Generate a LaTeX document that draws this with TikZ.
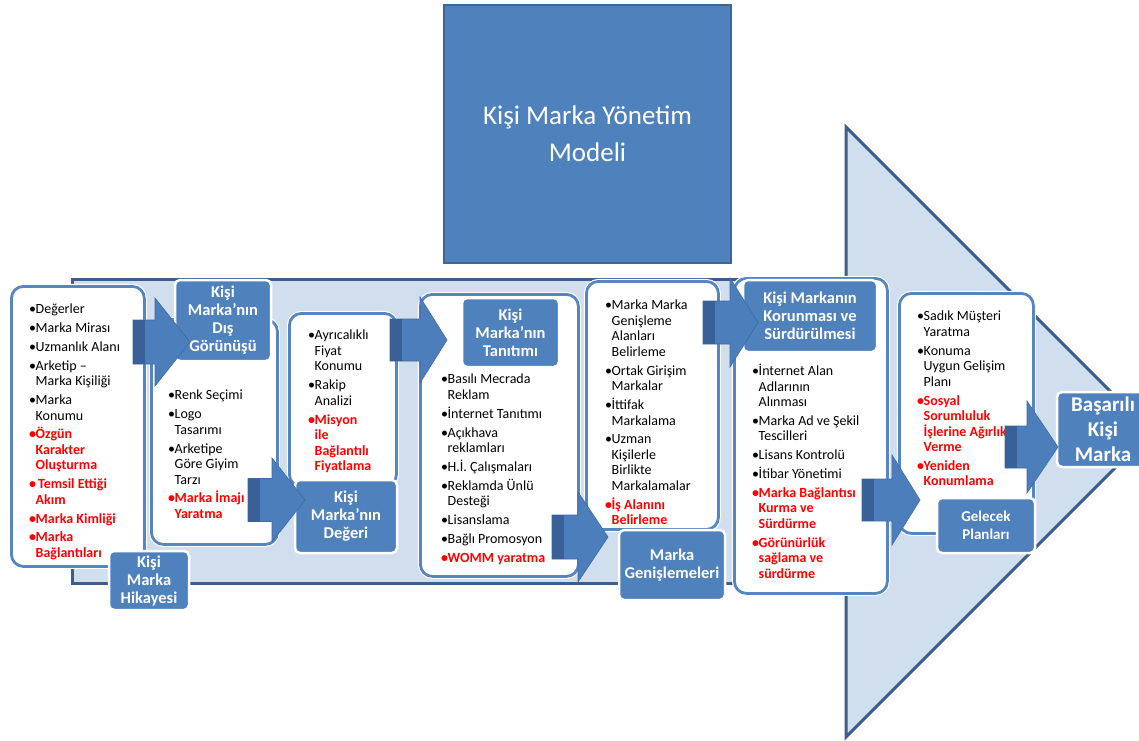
\documentclass[tikz,border=0pt]{standalone}
\usepackage{fontspec}
\setmainfont{Carlito}
\definecolor{bandfill}{HTML}{D1DEEE}
\definecolor{banddraw}{HTML}{3B5E8D}
\definecolor{hblue}{HTML}{4F81BD}
\definecolor{titledraw}{HTML}{3D6697}
\definecolor{boxdraw}{HTML}{5686C2}
\definecolor{arrowfill}{HTML}{4C7EBC}
\definecolor{arrowdark}{HTML}{3A6098}
\definecolor{arrowline}{HTML}{3F6AA3}
\definecolor{redtext}{HTML}{FF0000}
% bullet item, continuation indent, red bold line
\newcommand\itm{\makebox[6.5pt][l]{•}}
\newcommand\cnt{\hspace*{6.5pt}}
\newcommand\rl[1]{{\color{redtext}\bfseries #1}}
% block arrow: back x, head base x, tip x, centre y, shaft half, head half, dark band
\newcommand\blockarrow[7]{%
  \path[fill=arrowfill, draw=arrowline, line width=0.6pt, line join=miter]
    (#1,{#4-#5}) -- (#2,{#4-#5}) -- (#2,{#4-#6}) -- (#3,#4) -- (#2,{#4+#6})
    -- (#2,{#4+#5}) -- (#1,{#4+#5}) -- cycle;
  \fill[arrowdark] (#1,{#4-#5}) rectangle ({#1+#7},{#4+#5});
}
\begin{document}
\begin{tikzpicture}[x=1pt,y=-1pt,
  bigshape/.style={fill=bandfill, draw=banddraw, line width=3pt, line join=miter},
  listbox/.style={fill=white, draw=boxdraw, line width=2.8pt, rounded corners=12pt,
    anchor=north west, inner sep=0pt, preaction={draw=white, line width=5pt}},
  hdr/.style={fill=hblue, draw=white, line width=2.5pt, rounded corners=5pt,
    text=white, align=center, inner sep=0pt,
    font=\bfseries\fontsize{16.5}{18}\selectfont},
  listtxt/.style={anchor=north west, align=left, inner sep=0pt,
    font=\fontsize{14}{15.5}\selectfont, execute at begin node={\rule{0pt}{11pt}}},
  titlebox/.style={fill=hblue, draw=titledraw, line width=2pt, text=white,
    align=center, inner sep=0pt, font=\fontsize{27}{37}\selectfont}
]
\useasboundingbox (0,0) rectangle (1139,740);

% title
\node[titlebox, minimum width=287, minimum height=258] (title) at (587.5,134)
  {Kişi Marka Yönetim\\Modeli};

% large background arrow
\path[bigshape] (72,279) rectangle (846,583);
\path[bigshape] (846,127) -- (1151,432) -- (846,737) -- cycle;

% list boxes
\node[listbox, minimum width=133, minimum height=280] (b1) at (10,285) {};
\node[listbox, minimum width=126, minimum height=225] (b2) at (150,318) {};
\node[listbox, minimum width=107, minimum height=173] (b3) at (288,312) {};
\node[listbox, minimum width=158, minimum height=282] (b4) at (419,293) {};
\node[listbox, minimum width=132, minimum height=248] (b5) at (585,280) {};
\node[listbox, minimum width=153, minimum height=315] (b6) at (733,277) {};
\node[listbox, minimum width=134, minimum height=240] (b7) at (898,292) {};

% list texts
\node[listtxt] (t1) at (29,304) {%
\itm Değerler\\[3.3pt]
\itm Marka Mirası\\[3.3pt]
\itm Uzmanlık Alanı\\[3.3pt]
\itm Arketip –\\
\cnt Marka Kişiliği\\[3.3pt]
\itm Marka\\
\cnt Konumu\\[3.3pt]
\rl{\itm Özgün}\\
\rl{\cnt Karakter}\\
\rl{\cnt Oluşturma}\\[3.3pt]
\rl{\itm\,Temsil Ettiği}\\
\rl{\cnt Akım}\\[3.3pt]
\rl{\itm Marka Kimliği}\\[3.3pt]
\rl{\itm Marka}\\
\rl{\cnt Bağlantıları}};

\node[listtxt] (t2) at (168,390) {%
\itm Renk Seçimi\\[3.3pt]
\itm Logo\\
\cnt Tasarımı\\[3.3pt]
\itm Arketipe\\
\cnt Göre Giyim\\
\cnt Tarzı\\[3.3pt]
\rl{\itm Marka İmajı}\\
\rl{\cnt Yaratma}};

\node[listtxt] (t3) at (308,330) {%
\itm Ayrıcalıklı\\
\cnt Fiyat\\
\cnt Konumu\\[3.3pt]
\itm Rakip\\
\cnt Analizi\\[3.3pt]
\rl{\itm Misyon}\\
\rl{\cnt ile}\\
\rl{\cnt Bağlantılı}\\
\rl{\cnt Fiyatlama}};

\node[listtxt] (t4) at (441,374) {%
\itm Basılı Mecrada\\
\cnt Reklam\\[3.3pt]
\itm İnternet Tanıtımı\\[3.3pt]
\itm Açıkhava\\
\cnt reklamları\\[3.3pt]
\itm H.İ. Çalışmaları\\[3.3pt]
\itm Reklamda Ünlü\\
\cnt Desteği\\[3.3pt]
\itm Lisanslama\\[3.3pt]
\itm Bağlı Promosyon\\[3.3pt]
\rl{\itm WOMM yaratma}};

\node[listtxt] (t5) at (605,300) {%
\itm Marka Marka\\
\cnt Genişleme\\
\cnt Alanları\\
\cnt Belirleme\\[3.3pt]
\itm Ortak Girişim\\
\cnt Markalar\\[3.3pt]
\itm İttifak\\
\cnt Markalama\\[3.3pt]
\itm Uzman\\
\cnt Kişilerle\\
\cnt Birlikte\\
\cnt Markalamalar\\[3.3pt]
\rl{\itm İş Alanını}\\
\rl{\cnt Belirleme}};

\node[listtxt] (t6) at (752,364) {%
\itm İnternet Alan\\
\cnt Adlarının\\
\cnt Alınması\\[3.3pt]
\itm Marka Ad ve Şekil\\
\cnt Tescilleri\\[3.3pt]
\itm Lisans Kontrolü\\[3.3pt]
\itm İtibar Yönetimi\\[3.3pt]
\rl{\itm Marka Bağlantısı}\\
\rl{\cnt Kurma ve}\\
\rl{\cnt Sürdürme}\\[3.3pt]
\rl{\itm Görünürlük}\\
\rl{\cnt sağlama ve}\\
\rl{\cnt sürdürme}};

\node[listtxt] (t7) at (917,311) {%
\itm Sadık Müşteri\\
\cnt Yaratma\\[3.3pt]
\itm Konuma\\
\cnt Uygun Gelişim\\
\cnt Planı\\[3.3pt]
\rl{\itm Sosyal}\\
\rl{\cnt Sorumluluk}\\
\rl{\cnt İşlerine Ağırlık}\\
\rl{\cnt Verme}\\[3.3pt]
\rl{\itm Yeniden}\\
\rl{\cnt Konumlama}};

% step headers
\node[hdr, minimum width=80, minimum height=59] (h1) at (149,580.5) {Kişi\\Marka\\Hikayesi};
\node[hdr, minimum width=96, minimum height=81] (h2) at (223,320.5) {Kişi\\Marka’nın\\Dış\\Görünüşü};
\node[hdr, minimum width=102, minimum height=73] (h3) at (346,516.5) {Kişi\\Marka’nın\\Değeri};
\node[hdr, minimum width=97, minimum height=69] (h4) at (510.5,332.5) {Kişi\\Marka’nın\\Tanıtımı};
\node[hdr, minimum width=106, minimum height=70] (h5) at (672,565) {Marka\\Genişlemeleri};
\node[hdr, minimum width=134, minimum height=72] (h6) at (810,316) {Kişi Markanın\\Korunması ve\\Sürdürülmesi};
\node[hdr, minimum width=98, minimum height=55, font=\bfseries\fontsize{15}{18}\selectfont] (h7) at (986,525.5) {Gelecek\\Planları};
\node[hdr, minimum width=92, minimum height=75, font=\bfseries\fontsize{21}{25}\selectfont] (h8) at (1103,429.5) {Başarılı\\Kişi\\Marka};

% block arrows from each list to the next step
\blockarrow{133}{155}{190}{342}{22}{44}{12}
\blockarrow{248}{272}{305}{500}{21.5}{42}{12}
\blockarrow{390}{420}{447}{340}{21}{43}{12}
\blockarrow{552}{578}{608}{537}{22}{45}{12}
\blockarrow{703}{730}{758}{322.5}{21.5}{44.5}{12}
\blockarrow{862}{892}{920}{500}{21}{45}{12}
\blockarrow{1005}{1027}{1058}{447}{21}{46}{12}
\end{tikzpicture}
\end{document}
